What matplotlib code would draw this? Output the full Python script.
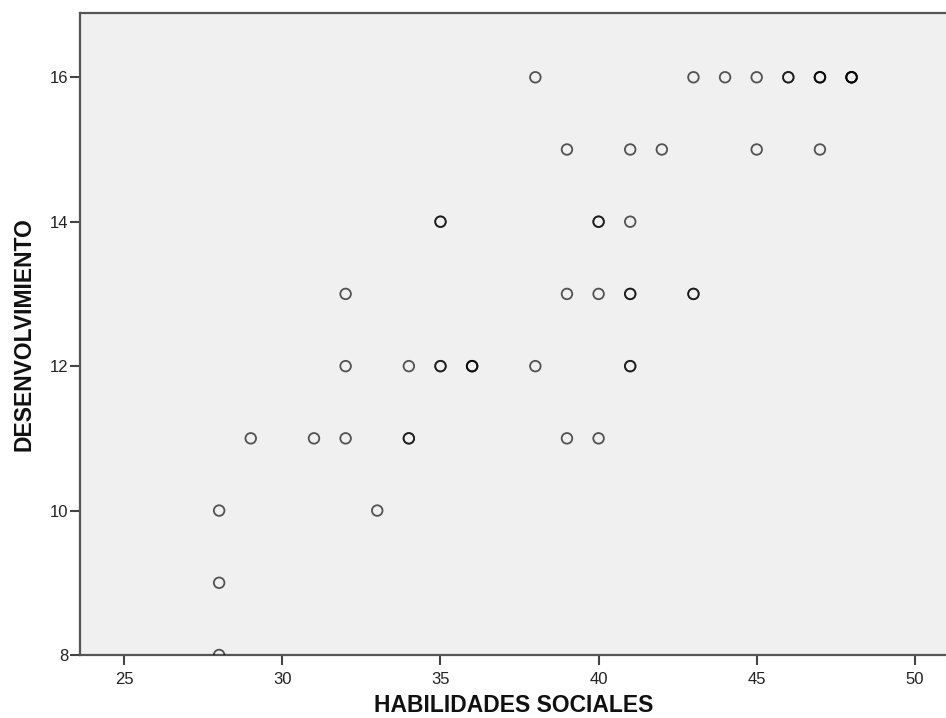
import matplotlib
matplotlib.use("Agg")
from matplotlib import pyplot as plt

# HABILIDADES SOCIALES (x) vs DESENVOLVIMIENTO (y); repeated pairs = overlapping cases
habilidades = [38, 43, 44, 45, 46, 46, 47, 47, 47, 48, 48, 48, 48,
               39, 41, 42, 45, 47,
               35, 35, 40, 40, 41,
               32, 39, 40, 41, 41, 43, 43,
               32, 34, 35, 35, 36, 36, 36, 38, 41, 41,
               29, 31, 32, 34, 34, 39, 40,
               28, 33,
               28,
               28]
desenvolvimiento = [16] * 13 + [15] * 5 + [14] * 5 + [13] * 7 + [12] * 10 + \
                   [11] * 7 + [10] * 2 + [9] + [8]

x_ticks = [25, 30, 35, 40, 45, 50]
y_ticks = [8, 10, 12, 14, 16]

fig = plt.figure(figsize=(9.46, 7.18), dpi=100)
ax = fig.add_axes([80 / 946, 63 / 718, 868 / 946, 642 / 718])
ax.set_facecolor("#F0F0F0")

ax.scatter(habilidades, desenvolvimiento, s=58, facecolors="none",
           edgecolors="black", linewidths=1.3, alpha=0.66, zorder=3)

ax.set_xlim(23.6, 51.05)
ax.set_ylim(8, 16.89)
ax.set_xticks(x_ticks)
ax.set_yticks(y_ticks)

font = ["Liberation Sans", "DejaVu Sans"]
for lab in ax.get_xticklabels() + ax.get_yticklabels():
    lab.set_family(font)
    lab.set_fontsize(12)
    lab.set_color("#222222")

ax.tick_params(direction="out", length=7, width=1.5, color="#444444")
ax.tick_params(axis="x", pad=5)
ax.tick_params(axis="y", pad=1.5)
for side in ["left", "bottom", "top"]:
    ax.spines[side].set_color("#555555")
    ax.spines[side].set_linewidth(1.6)
ax.spines["right"].set_visible(False)

ax.set_xlabel("HABILIDADES SOCIALES", fontsize=16.5, fontweight="bold",
              family=font, labelpad=5, color="#111111")
ax.set_ylabel("DESENVOLVIMIENTO", fontsize=16.5, fontweight="bold",
              family=font, labelpad=10, color="#111111")

fig.savefig("out.png", dpi=100)
